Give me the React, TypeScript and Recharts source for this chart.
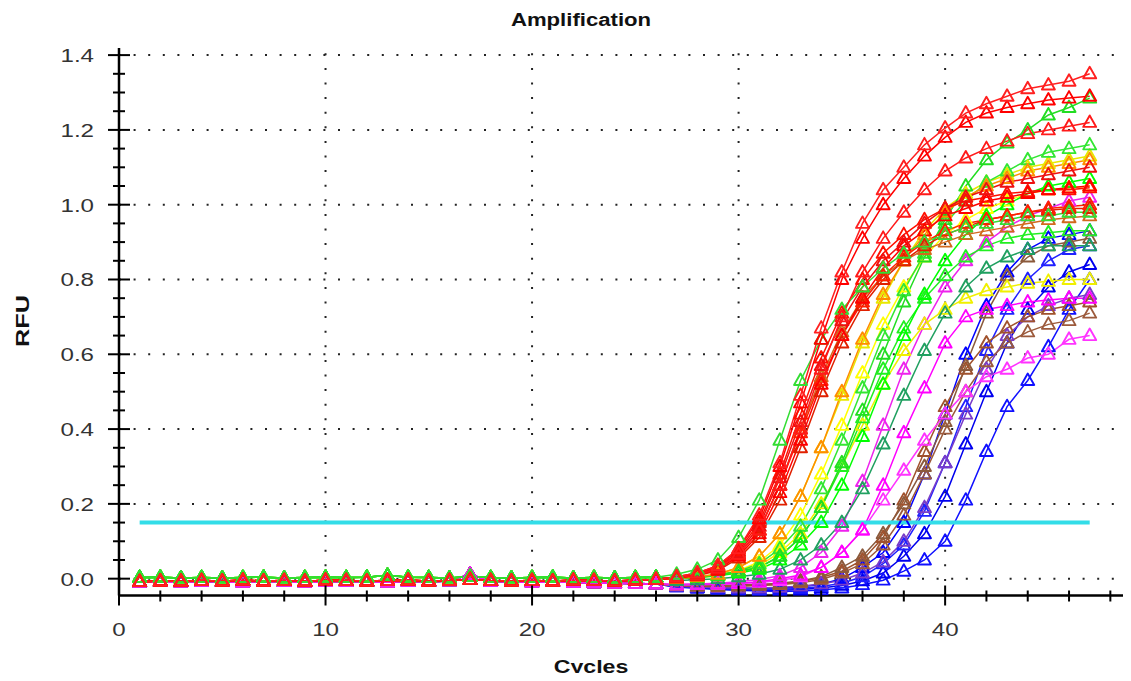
import { LineChart, Line, XAxis, YAxis, ReferenceLine } from 'recharts';

// cycle numbers on the x axis
const cycles = [1, 2, 3, 4, 5, 6, 7, 8, 9, 10, 11, 12, 13, 14, 15, 16, 17, 18, 19, 20, 21, 22, 23, 24, 25, 26, 27, 28, 29, 30, 31, 32, 33, 34, 35, 36, 37, 38, 39, 40, 41, 42, 43, 44, 45, 46, 47];

// tick values
const xTicks = [0, 2, 4, 6, 8, 10, 12, 14, 16, 18, 20, 22, 24, 26, 28, 30, 32, 34, 36, 38, 40, 42, 44, 46, 48];
const xLabels = [0, 10, 20, 30, 40];
const yTicks = [0, 0.05, 0.1, 0.15, 0.2, 0.25, 0.3, 0.35, 0.4, 0.45, 0.5, 0.55, 0.6, 0.65, 0.7, 0.75, 0.8, 0.85, 0.9, 0.95, 1.0, 1.05, 1.1, 1.15, 1.2, 1.25, 1.3, 1.35, 1.4];
const yLabels = [0, 0.2, 0.4, 0.6, 0.8, 1.0, 1.2, 1.4];

const threshold = 0.15;
const thresholdFrom = 1;
const thresholdTo = 47;

// flat part, cycles 1-26
const baseRed = [-0.008, -0.006, -0.007, -0.005, -0.006, -0.004, -0.006, -0.005, -0.007, -0.004, -0.005, -0.006, -0.005, -0.004, -0.006, -0.005, -0.002, -0.005, -0.006, -0.005, -0.006, -0.004, -0.005, -0.006, -0.004, -0.002];
const baseGreen = [0.003, 0.004, 0.002, 0.003, 0.002, 0.003, 0.004, 0.002, 0.003, 0.004, 0.003, 0.004, 0.009, 0.004, 0.003, 0.002, 0.006, 0.003, 0.002, 0.003, 0.004, 0.002, 0.003, 0.002, 0.003, 0.004];
const baseLate = [-0.009, -0.008, -0.009, -0.007, -0.008, -0.009, -0.007, -0.008, -0.009, -0.008, -0.007, -0.008, -0.009, -0.007, -0.008, -0.006, 0.012, -0.007, -0.008, -0.009, -0.008, -0.01, -0.011, -0.012, -0.013, -0.014];

// cycles 27-47
const red1 = [0.005, 0.015, 0.035, 0.08, 0.17, 0.31, 0.49, 0.67, 0.82, 0.95, 1.04, 1.10, 1.16, 1.205, 1.245, 1.27, 1.29, 1.31, 1.32, 1.33, 1.35];
const red2 = [0.005, 0.015, 0.035, 0.08, 0.16, 0.30, 0.47, 0.64, 0.80, 0.91, 1.0, 1.07, 1.13, 1.18, 1.22, 1.245, 1.26, 1.27, 1.28, 1.285, 1.29];
const red3 = [0.003, 0.01, 0.028, 0.065, 0.13, 0.25, 0.40, 0.56, 0.70, 0.82, 0.91, 0.98, 1.04, 1.09, 1.125, 1.15, 1.17, 1.19, 1.20, 1.21, 1.22];
const red4 = [0.003, 0.012, 0.03, 0.07, 0.14, 0.27, 0.42, 0.57, 0.69, 0.78, 0.85, 0.90, 0.95, 0.99, 1.02, 1.04, 1.06, 1.07, 1.08, 1.09, 1.10];
const red5 = [0.002, 0.01, 0.025, 0.06, 0.12, 0.23, 0.37, 0.52, 0.65, 0.75, 0.83, 0.89, 0.93, 0.97, 0.99, 1.01, 1.02, 1.03, 1.04, 1.045, 1.05];
const red6 = [0.004, 0.012, 0.03, 0.065, 0.13, 0.25, 0.39, 0.53, 0.65, 0.74, 0.81, 0.86, 0.90, 0.93, 0.95, 0.96, 0.97, 0.98, 0.99, 0.995, 1.0];
const red7 = [0.004, 0.014, 0.033, 0.075, 0.15, 0.28, 0.44, 0.59, 0.71, 0.80, 0.87, 0.92, 0.96, 0.99, 1.01, 1.02, 1.03, 1.035, 1.04, 1.04, 1.045];
const red8 = [0.002, 0.008, 0.022, 0.055, 0.11, 0.21, 0.35, 0.50, 0.63, 0.73, 0.80, 0.85, 0.89, 0.92, 0.94, 0.96, 0.97, 0.98, 0.985, 0.99, 0.99];
const orange1 = [0.0, 0.005, 0.012, 0.03, 0.06, 0.12, 0.22, 0.35, 0.50, 0.64, 0.76, 0.85, 0.92, 0.98, 1.02, 1.05, 1.07, 1.09, 1.10, 1.11, 1.12];
const orange2 = [0.003, 0.01, 0.028, 0.065, 0.13, 0.25, 0.40, 0.54, 0.66, 0.75, 0.81, 0.85, 0.88, 0.90, 0.92, 0.93, 0.94, 0.95, 0.96, 0.965, 0.97];
const green1 = [0.012, 0.025, 0.05, 0.11, 0.21, 0.37, 0.53, 0.64, 0.72, 0.78, 0.83, 0.87, 0.90, 0.92, 0.94, 0.95, 0.96, 0.97, 0.97, 0.98, 0.98];
const green2 = [0.0, 0.005, 0.01, 0.02, 0.03, 0.06, 0.11, 0.19, 0.31, 0.45, 0.60, 0.74, 0.86, 0.96, 1.05, 1.12, 1.165, 1.20, 1.24, 1.26, 1.285];
const green3 = [0.0, 0.005, 0.01, 0.02, 0.04, 0.08, 0.14, 0.24, 0.37, 0.51, 0.65, 0.77, 0.87, 0.95, 1.01, 1.06, 1.09, 1.12, 1.14, 1.15, 1.16];
const green4 = [0.0, 0.003, 0.008, 0.015, 0.025, 0.05, 0.09, 0.15, 0.25, 0.38, 0.52, 0.65, 0.76, 0.85, 0.92, 0.97, 1.0, 1.03, 1.05, 1.06, 1.07];
const green5 = [0.0, 0.004, 0.009, 0.018, 0.03, 0.06, 0.11, 0.19, 0.30, 0.43, 0.56, 0.67, 0.75, 0.81, 0.86, 0.89, 0.91, 0.92, 0.925, 0.93, 0.93];
const teal1 = [-0.005, -0.003, 0.0, 0.005, 0.012, 0.025, 0.05, 0.09, 0.15, 0.24, 0.36, 0.49, 0.61, 0.71, 0.78, 0.83, 0.86, 0.88, 0.89, 0.89, 0.89];
const yellow1 = [0.0, 0.005, 0.012, 0.03, 0.06, 0.12, 0.22, 0.35, 0.49, 0.63, 0.75, 0.85, 0.93, 0.99, 1.03, 1.06, 1.08, 1.10, 1.11, 1.12, 1.13];
const yellow2 = [0.0, 0.004, 0.01, 0.022, 0.045, 0.09, 0.17, 0.28, 0.41, 0.55, 0.68, 0.78, 0.86, 0.92, 0.96, 0.99, 1.01, 1.03, 1.04, 1.045, 1.05];
const yellow3 = [0.0, 0.003, 0.008, 0.018, 0.035, 0.07, 0.12, 0.20, 0.30, 0.41, 0.52, 0.61, 0.68, 0.72, 0.75, 0.77, 0.78, 0.79, 0.795, 0.80, 0.80];
const magenta1 = [-0.015, -0.014, -0.012, -0.008, -0.002, 0.008, 0.03, 0.07, 0.14, 0.26, 0.41, 0.56, 0.68, 0.78, 0.85, 0.90, 0.94, 0.97, 0.99, 1.01, 1.02];
const magenta2 = [-0.016, -0.015, -0.014, -0.012, -0.008, 0.0, 0.01, 0.03, 0.07, 0.13, 0.25, 0.39, 0.51, 0.63, 0.70, 0.72, 0.73, 0.74, 0.745, 0.75, 0.75];
const magenta3 = [-0.017, -0.016, -0.015, -0.013, -0.01, -0.005, 0.005, 0.03, 0.07, 0.13, 0.21, 0.29, 0.37, 0.44, 0.50, 0.54, 0.56, 0.59, 0.60, 0.64, 0.65];
const brown1 = [-0.017, -0.018, -0.018, -0.017, -0.015, -0.012, -0.006, 0.005, 0.03, 0.06, 0.12, 0.20, 0.30, 0.42, 0.57, 0.71, 0.81, 0.86, 0.89, 0.90, 0.91];
const brown2 = [-0.018, -0.019, -0.02, -0.019, -0.017, -0.014, -0.008, 0.003, 0.02, 0.05, 0.11, 0.21, 0.34, 0.46, 0.56, 0.63, 0.67, 0.70, 0.72, 0.73, 0.74];
const brown3 = [-0.018, -0.02, -0.021, -0.02, -0.018, -0.016, -0.011, -0.002, 0.015, 0.04, 0.09, 0.17, 0.28, 0.40, 0.50, 0.58, 0.63, 0.66, 0.68, 0.69, 0.71];
const purple1 = [-0.02, -0.022, -0.024, -0.025, -0.025, -0.023, -0.02, -0.014, -0.004, 0.015, 0.045, 0.10, 0.19, 0.31, 0.44, 0.56, 0.65, 0.70, 0.73, 0.75, 0.76];
const blue1 = [-0.02, -0.022, -0.024, -0.025, -0.026, -0.025, -0.022, -0.015, 0.0, 0.03, 0.07, 0.15, 0.28, 0.44, 0.60, 0.73, 0.82, 0.88, 0.91, 0.92, 0.93];
const blue2 = [-0.021, -0.023, -0.026, -0.028, -0.029, -0.028, -0.026, -0.021, -0.012, 0.005, 0.04, 0.09, 0.18, 0.31, 0.46, 0.61, 0.72, 0.80, 0.85, 0.88, 0.89];
const blue3 = [-0.022, -0.025, -0.028, -0.03, -0.031, -0.031, -0.029, -0.025, -0.018, -0.006, 0.015, 0.06, 0.12, 0.22, 0.36, 0.50, 0.63, 0.72, 0.78, 0.82, 0.84];
const blue4 = [-0.022, -0.025, -0.028, -0.031, -0.033, -0.034, -0.033, -0.03, -0.025, -0.016, -0.004, 0.02, 0.05, 0.10, 0.21, 0.34, 0.46, 0.53, 0.62, 0.72, 0.80];

// drawing order: later entries are painted on top
const series = [
  { key: 'blue4', base: baseLate, rise: blue4, color: '#1010ff' },
  { key: 'blue3', base: baseLate, rise: blue3, color: '#0000ee' },
  { key: 'blue2', base: baseLate, rise: blue2, color: '#2020ff' },
  { key: 'blue1', base: baseLate, rise: blue1, color: '#0000ff' },
  { key: 'purple1', base: baseLate, rise: purple1, color: '#7a3cc8' },
  { key: 'brown3', base: baseLate, rise: brown3, color: '#9c5a3c' },
  { key: 'brown2', base: baseLate, rise: brown2, color: '#a0522d' },
  { key: 'brown1', base: baseLate, rise: brown1, color: '#8b5a3c' },
  { key: 'magenta3', base: baseLate, rise: magenta3, color: '#ff33ff' },
  { key: 'magenta2', base: baseLate, rise: magenta2, color: '#ff00ff' },
  { key: 'magenta1', base: baseLate, rise: magenta1, color: '#ee22ee' },
  { key: 'yellow3', base: baseGreen, rise: yellow3, color: '#f0f000' },
  { key: 'yellow2', base: baseGreen, rise: yellow2, color: '#ffff00' },
  { key: 'yellow1', base: baseGreen, rise: yellow1, color: '#e8e800' },
  { key: 'teal1', base: baseGreen, rise: teal1, color: '#20a060' },
  { key: 'green5', base: baseGreen, rise: green5, color: '#22ee22' },
  { key: 'green4', base: baseGreen, rise: green4, color: '#00ff00' },
  { key: 'green3', base: baseGreen, rise: green3, color: '#33e633' },
  { key: 'green2', base: baseGreen, rise: green2, color: '#22dd22' },
  { key: 'orange2', base: baseRed, rise: orange2, color: '#d2691e' },
  { key: 'orange1', base: baseRed, rise: orange1, color: '#ff8c00' },
  { key: 'red8', base: baseRed, rise: red8, color: '#e02000' },
  { key: 'red7', base: baseRed, rise: red7, color: '#ff1000' },
  { key: 'red6', base: baseRed, rise: red6, color: '#ff2000' },
  { key: 'red5', base: baseRed, rise: red5, color: '#ff0000' },
  { key: 'red4', base: baseRed, rise: red4, color: '#ee1010' },
  { key: 'green1', base: baseGreen, rise: green1, color: '#33dd33' },
  { key: 'red3', base: baseRed, rise: red3, color: '#ff1a1a' },
  { key: 'red2', base: baseRed, rise: red2, color: '#ff0000' },
  { key: 'red1', base: baseRed, rise: red1, color: '#ff2020' },
];

const rows = cycles.map((c, i) => {
  const row: Record<string, number> = { cycle: c };
  series.forEach((s) => {
    const all = s.base.concat(s.rise);
    row[s.key] = all[i];
  });
  return row;
});

const FONT = '"Liberation Sans", Arial, sans-serif';
const STRETCH = 1.27;

const isIn = (list: number[], v: number) => list.some((m) => Math.abs(m - v) < 1e-6);

const Tri = ({ cx, cy, color }: any) => {
  if (cx == null || cy == null) return null;
  return (
    <path
      d={`M${cx},${cy - 7}L${cx + 6.5},${cy + 4.5}L${cx - 6.5},${cy + 4.5}Z`}
      fill="none"
      stroke={color}
      strokeWidth={1.9}
      strokeLinejoin="round"
    />
  );
};

const BottomTick = ({ x, y, payload }: any) => {
  const major = isIn(xLabels, payload.value);
  return (
    <g>
      <line x1={x} x2={x} y1={major ? y - 10 : y - 5} y2={major ? y + 10 : y + 6} stroke="#000" strokeWidth={2} />
      {major && (
        <text transform={`translate(${x},${y + 40}) scale(${STRETCH},1)`} textAnchor="middle" fontSize={19} fontFamily={FONT} fill="#333">
          {payload.value}
        </text>
      )}
    </g>
  );
};

const LeftTick = ({ x, y, payload }: any) => {
  const major = isIn(yLabels, payload.value);
  return (
    <g>
      <line x1={major ? x - 11 : x - 6} x2={major ? x + 11 : x + 6} y1={y} y2={y} stroke="#000" strokeWidth={2} />
      {major && (
        <text transform={`translate(${x - 25},${y + 7}) scale(${STRETCH},1)`} textAnchor="end" fontSize={19} fontFamily={FONT} fill="#333">
          {payload.value.toFixed(1)}
        </text>
      )}
    </g>
  );
};

const TopTick = ({ x, y, payload }: any) => {
  const major = isIn(xLabels, payload.value);
  return <line x1={x} x2={x} y1={y} y2={y + (major ? 10 : 6)} stroke="#000" strokeWidth={2} />;
};

const RightTick = ({ x, y, payload }: any) => {
  const major = isIn(yLabels, payload.value);
  return <line x1={x - (major ? 8 : 4)} x2={x} y1={y} y2={y} stroke="#000" strokeWidth={2} />;
};

const dotted = { stroke: '#222', strokeWidth: 2, strokeDasharray: '2 12.6' };

export default function App() {
  return (
    <div style={{ position: 'relative', width: 1123, height: 665 }}>
      <LineChart width={1123} height={665} data={rows} margin={{ top: 40, right: 0, bottom: 47.5, left: 51 }}>
        <XAxis
          xAxisId="x"
          type="number"
          dataKey="cycle"
          domain={[0, 49]}
          allowDataOverflow
          ticks={xTicks}
          interval={0}
          height={30}
          tickSize={0}
          tickMargin={0}
          tickLine={false}
          axisLine={{ stroke: '#000', strokeWidth: 2.5 }}
          tick={(p: any) => <BottomTick key={`bx-${p.index}`} {...p} />}
        />
        <XAxis
          xAxisId="top"
          orientation="top"
          type="number"
          dataKey="cycle"
          domain={[0, 49]}
          allowDataOverflow
          ticks={xTicks}
          interval={0}
          height={0}
          tickSize={0}
          tickMargin={0}
          tickLine={false}
          axisLine={{ stroke: '#000', strokeWidth: 2 }}
          tick={(p: any) => <TopTick key={`tx-${p.index}`} {...p} />}
        />
        <YAxis
          yAxisId="y"
          type="number"
          domain={[-0.045, 1.419]}
          allowDataOverflow
          ticks={yTicks}
          interval={0}
          width={60}
          tickSize={0}
          tickMargin={0}
          tickLine={false}
          axisLine={{ stroke: '#000', strokeWidth: 2.5 }}
          tick={(p: any) => <LeftTick key={`ly-${p.index}`} {...p} />}
        />
        <YAxis
          yAxisId="right"
          orientation="right"
          type="number"
          domain={[-0.045, 1.419]}
          allowDataOverflow
          ticks={yTicks}
          interval={0}
          width={0}
          tickSize={0}
          tickMargin={0}
          tickLine={false}
          axisLine={false}
          tick={(p: any) => <RightTick key={`ry-${p.index}`} {...p} />}
        />
        {xLabels.filter((v) => v > 0).map((v) => (
          <ReferenceLine key={`gx-${v}`} xAxisId="x" yAxisId="y" x={v} {...dotted} />
        ))}
        {yLabels.map((v) => (
          <ReferenceLine key={`gy-${v}`} xAxisId="x" yAxisId="y" y={v} {...dotted} />
        ))}
        {series.map((s) => (
          <Line
            key={s.key}
            xAxisId="x"
            yAxisId="y"
            type="linear"
            dataKey={s.key}
            stroke={s.color}
            strokeWidth={1.5}
            isAnimationActive={false}
            dot={(p: any) => <Tri key={`${s.key}-${p.index}`} cx={p.cx} cy={p.cy} color={s.color} />}
            activeDot={false}
          />
        ))}
        <ReferenceLine
          xAxisId="x"
          yAxisId="y"
          segment={[{ x: thresholdFrom, y: threshold }, { x: thresholdTo, y: threshold }]}
          stroke="#33dde8"
          strokeWidth={4}
        />
      </LineChart>
      <svg width={1123} height={665} style={{ position: 'absolute', left: 0, top: 0, pointerEvents: 'none', overflow: 'visible' }}>
        <text transform="translate(573,17.5) scale(1.23,1)" textAnchor="middle" fontSize={18} fontWeight="bold" fontFamily={FONT} fill="#111">
          Amplification
        </text>
        <text transform="translate(583,665) scale(1.22,1)" textAnchor="middle" fontSize={19} fontWeight="bold" fontFamily={FONT} fill="#111">
          Cycles
        </text>
        <text transform="translate(14,313) rotate(-90) scale(1.33,1)" y={7} textAnchor="middle" fontSize={19} fontWeight="bold" fontFamily={FONT} fill="#111">
          RFU
        </text>
      </svg>
    </div>
  );
}
